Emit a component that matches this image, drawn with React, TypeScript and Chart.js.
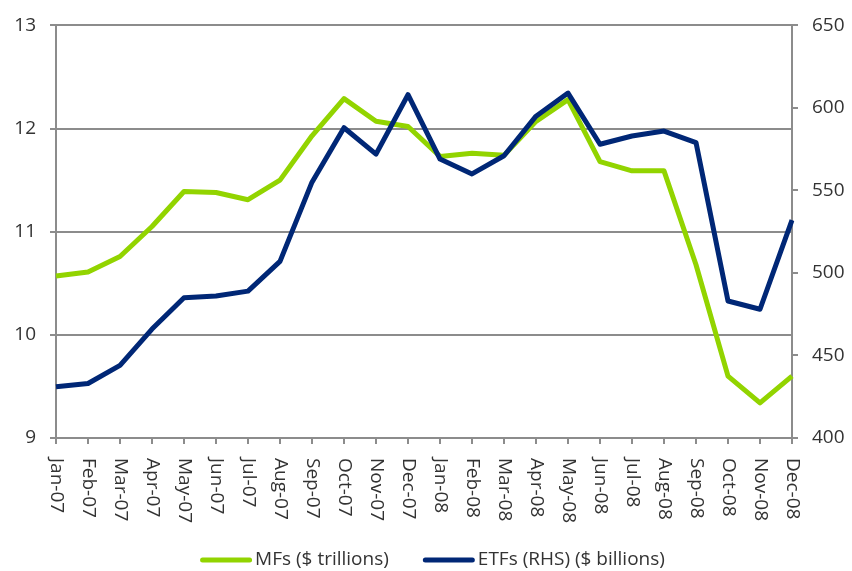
import React, { useEffect, useRef } from "react";
import { Chart, registerables } from "chart.js";

Chart.register(...registerables);

const categories = [
  "Jan-07", "Feb-07", "Mar-07", "Apr-07", "May-07", "Jun-07", "Jul-07", "Aug-07",
  "Sep-07", "Oct-07", "Nov-07", "Dec-07", "Jan-08", "Feb-08", "Mar-08", "Apr-08",
  "May-08", "Jun-08", "Jul-08", "Aug-08", "Sep-08", "Oct-08", "Nov-08", "Dec-08",
];

const mfValues = [
  10.57, 10.61, 10.76, 11.05, 11.39, 11.38, 11.31, 11.5,
  11.93, 12.29, 12.07, 12.02, 11.73, 11.76, 11.74, 12.07,
  12.28, 11.68, 11.59, 11.59, 10.68, 9.6, 9.34, 9.6,
];

const etfValues = [
  431, 433, 444, 466, 485, 486, 489, 507,
  555, 588, 572, 608, 569, 560, 571, 595,
  609, 578, 583, 586, 579, 483, 478, 532,
];

const leftTicks = [9, 10, 11, 12, 13];
const rightTicks = [400, 450, 500, 550, 600, 650];

const GREEN = "#92d400";
const NAVY = "#002776";
const GRID = "#8c8c8c";
const TEXT = "#333333";
const FONT = "'Open Sans', sans-serif";

const xLabelPlugin = {
  id: "xLabelPlugin",
  afterDraw(chart: any) {
    const xs = chart.scales.x;
    const ctx = chart.ctx;
    const bottom = chart.chartArea.bottom;
    ctx.save();
    ctx.fillStyle = TEXT;
    ctx.font = `19px ${FONT}`;
    ctx.textAlign = "left";
    ctx.textBaseline = "middle";
    categories.forEach((label, i) => {
      const x = xs.getPixelForTick(i);
      ctx.save();
      ctx.translate(x, bottom + 20);
      ctx.rotate(Math.PI / 2);
      ctx.fillText(label, 0, 0);
      ctx.restore();
    });
    ctx.restore();
  },
};

const legendPlugin = {
  id: "lineLegend",
  afterDraw(chart: any) {
    const ctx = chart.ctx;
    const ds = chart.data.datasets;
    const items = [ds[1], ds[0]];
    const boxW = 52;
    const gapText = 3;
    const gapItem = 34;
    const cy = 560;
    ctx.save();
    ctx.font = `19px ${FONT}`;
    const widths = items.map((d: any) => ctx.measureText(d.label).width);
    let total = 0;
    widths.forEach((w: number, i: number) => {
      total += boxW + gapText + w + (i > 0 ? gapItem : 0);
    });
    let x = 432.5 - total / 2;
    items.forEach((d: any, i: number) => {
      ctx.strokeStyle = d.borderColor;
      ctx.lineWidth = 5;
      ctx.lineCap = "round";
      ctx.beginPath();
      ctx.moveTo(x + 2.5, cy);
      ctx.lineTo(x + boxW - 2.5, cy);
      ctx.stroke();
      ctx.fillStyle = TEXT;
      ctx.textAlign = "left";
      ctx.textBaseline = "middle";
      ctx.fillText(d.label, x + boxW + gapText, cy);
      x += boxW + gapText + widths[i] + gapItem;
    });
    ctx.restore();
  },
};

export default function App() {
  const ref = useRef<HTMLCanvasElement | null>(null);

  useEffect(() => {
    if (!ref.current) return;
    const chart = new Chart(ref.current, {
      type: "line",
      data: {
        labels: categories,
        datasets: [
          {
            label: "ETFs (RHS) ($ billions)",
            data: etfValues,
            yAxisID: "y1",
            borderColor: NAVY,
            backgroundColor: NAVY,
            borderWidth: 5,
            pointRadius: 0,
            tension: 0,
            borderJoinStyle: "round",
          },
          {
            label: "MFs ($ trillions)",
            data: mfValues,
            yAxisID: "y",
            borderColor: GREEN,
            backgroundColor: GREEN,
            borderWidth: 5,
            pointRadius: 0,
            tension: 0,
            borderJoinStyle: "round",
          },
        ],
      },
      options: {
        responsive: false,
        animation: false,
        layout: { padding: { top: 20, left: 0, right: 0, bottom: 33 } },
        plugins: {
          tooltip: { enabled: false },
          legend: { display: false },
        },
        scales: {
          x: {
            type: "category",
            offset: false,
            grid: {
              drawOnChartArea: false,
              drawTicks: true,
              tickLength: 6,
              color: GRID,
              lineWidth: 2,
            },
            border: { display: true, color: GRID, width: 2 },
            ticks: { display: false },
            afterFit: (scale: any) => {
              scale.height = 100;
            },
          },
          y: {
            position: "left",
            min: 9,
            max: 13,
            afterBuildTicks: (scale: any) => {
              scale.ticks = leftTicks.map((v) => ({ value: v }));
            },
            ticks: {
              color: TEXT,
              font: { size: 19, family: FONT },
              padding: 14,
            },
            grid: {
              drawOnChartArea: true,
              drawTicks: true,
              tickLength: 6,
              color: GRID,
              lineWidth: 2,
            },
            border: { display: true, color: GRID, width: 2 },
            afterFit: (scale: any) => {
              scale.width = 56;
            },
          },
          y1: {
            position: "right",
            min: 400,
            max: 650,
            afterBuildTicks: (scale: any) => {
              scale.ticks = rightTicks.map((v) => ({ value: v }));
            },
            ticks: {
              color: TEXT,
              font: { size: 19, family: FONT },
              padding: 14,
            },
            grid: {
              drawOnChartArea: false,
              drawTicks: true,
              tickLength: 6,
              color: GRID,
              lineWidth: 2,
            },
            border: { display: true, color: GRID, width: 2 },
            afterFit: (scale: any) => {
              scale.width = 60;
            },
          },
        },
      },
      plugins: [xLabelPlugin, legendPlugin],
    });
    return () => chart.destroy();
  }, []);

  return (
    <div style={{ position: "absolute", left: 0, top: 0, width: 852, height: 571, background: "#fff" }}>
      <canvas ref={ref} width={852} height={571} style={{ width: 852, height: 571 }} />
    </div>
  );
}
